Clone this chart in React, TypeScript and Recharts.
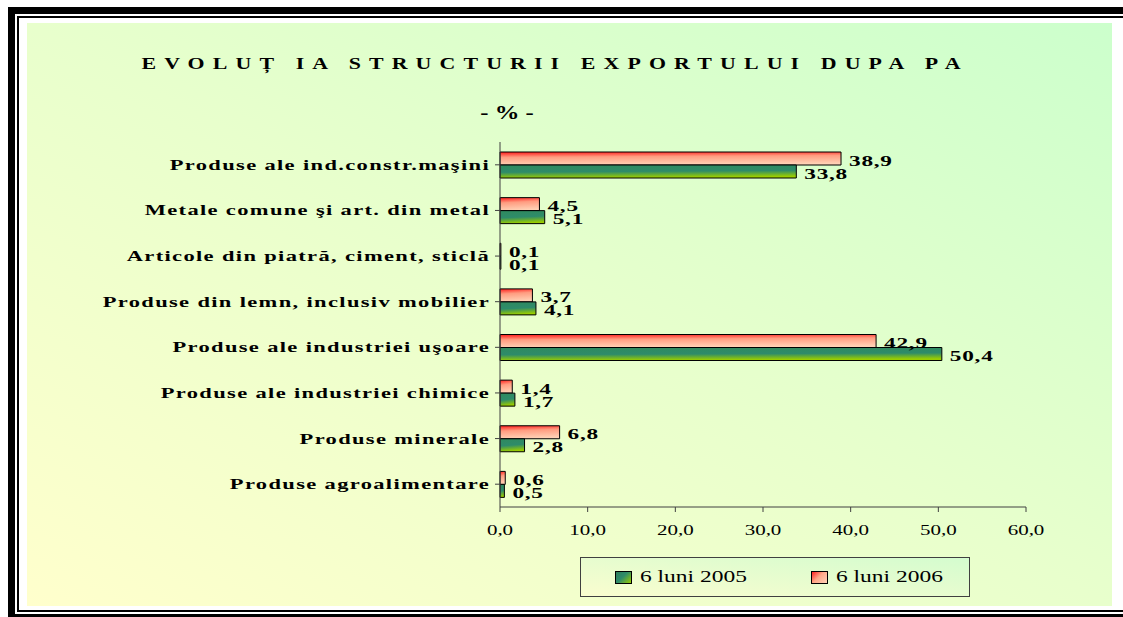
import React from "react";
import { BarChart, Bar, XAxis, YAxis, LabelList } from "recharts";

// ── Data ───────────────────────────────────────────────────

const CATEGORIES = [
  "Produse ale ind.constr.maşini",
  "Metale comune şi art. din metal",
  "Articole din piatră, ciment, sticlă",
  "Produse din lemn, inclusiv mobilier",
  "Produse ale industriei uşoare",
  "Produse ale industriei chimice",
  "Produse minerale",
  "Produse agroalimentare",
];

const VALUES_2006 = [38.9, 4.5, 0.1, 3.7, 42.9, 1.4, 6.8, 0.6];
const VALUES_2005 = [33.8, 5.1, 0.1, 4.1, 50.4, 1.7, 2.8, 0.5];

const X_TICKS = [0, 10, 20, 30, 40, 50, 60];

const SERIES_2005 = "6 luni 2005";
const SERIES_2006 = "6 luni 2006";

const data = CATEGORIES.map((name, i) => ({
  name,
  y2006: VALUES_2006[i],
  y2005: VALUES_2005[i],
}));

// ── Style ──────────────────────────────────────────────────

const FONT = '"Liberation Serif", "Times New Roman", serif';
const SX = 1.5; // the source picture is stretched horizontally
const AXIS = "#404040";

const fmt = (v: number) => v.toFixed(1).replace(".", ",");

// ── Ticks and labels ───────────────────────────────────────

function CategoryTick({ x, y, payload }: any) {
  return (
    <text
      transform={`translate(${x - 3},${y + 5}) scale(${SX},1)`}
      textAnchor="end"
      fontFamily={FONT}
      fontWeight="bold"
      fontSize={15}
      letterSpacing={0.9}
      fill="#000"
    >
      {payload.value}
    </text>
  );
}

function ValueTick({ x, y, payload }: any) {
  return (
    <text
      transform={`translate(${x},${y + 21}) scale(${SX},1)`}
      textAnchor="middle"
      fontFamily={FONT}
      fontSize={14}
      fill="#000"
    >
      {fmt(payload.value)}
    </text>
  );
}

function BarValue({ x, y, width, height, value }: any) {
  return (
    <text
      transform={`translate(${x + width + 8},${y + height / 2 + 7}) scale(${SX},1)`}
      fontFamily={FONT}
      fontWeight="bold"
      fontSize={15.5}
      letterSpacing={0.5}
      fill="#000"
    >
      {fmt(value)}
    </text>
  );
}

function Swatch({ kind }: { kind: "green" | "red" }) {
  const bg =
    kind === "green"
      ? "linear-gradient(135deg, #2E7D5B 0%, #2E8B6A 45%, #9ACD00 100%)"
      : "linear-gradient(135deg, #FF2020 0%, #FFA888 45%, #FFD2B8 100%)";
  return (
    <span
      style={{
        display: "inline-block",
        width: 15,
        height: 11,
        border: "1px solid #000",
        background: bg,
        marginRight: 8,
      }}
    />
  );
}

function LegendBox() {
  const item = (kind: "green" | "red", label: string) => (
    <div style={{ display: "flex", alignItems: "center" }}>
      <Swatch kind={kind} />
      <span
        style={{
          display: "inline-block",
          fontFamily: FONT,
          fontSize: 17,
          transform: `scaleX(1.38)`,
          transformOrigin: "left center",
          width: 100,
          whiteSpace: "nowrap",
        }}
      >
        {label}
      </span>
    </div>
  );
  return (
    <div
      style={{
        position: "absolute",
        left: 580,
        top: 557,
        width: 388,
        height: 38,
        border: "1px solid #404040",
        background: "linear-gradient(to top right, #FAFDCF, #D4FCCF)",
        display: "flex",
        alignItems: "center",
      }}
    >
      <div style={{ marginLeft: 34, width: 196 }}>{item("green", SERIES_2005)}</div>
      <div>{item("red", SERIES_2006)}</div>
    </div>
  );
}

// ── Component ──────────────────────────────────────────────

export default function App() {
  return (
    <div style={{ position: "absolute", left: 0, top: 0, width: 1123, height: 617, background: "#fff", overflow: "hidden" }}>
      {/* double frame */}
      <div style={{ position: "absolute", left: 8, top: 7, width: 1115, height: 7, background: "#000" }} />
      <div style={{ position: "absolute", left: 8, top: 7, width: 7, height: 610, background: "#000" }} />
      <div style={{ position: "absolute", left: 17, top: 16, width: 1106, height: 2, background: "#000" }} />
      <div style={{ position: "absolute", left: 17, top: 16, width: 2, height: 596, background: "#000" }} />
      <div style={{ position: "absolute", left: 17, top: 610, width: 1106, height: 2, background: "#000" }} />
      <div style={{ position: "absolute", left: 15, top: 614, width: 1108, height: 3, background: "#000" }} />

      {/* chart area background */}
      <div
        style={{
          position: "absolute",
          left: 27,
          top: 23,
          width: 1085,
          height: 583,
          background: "linear-gradient(to top right, #FFFFCC 0%, #E8FFCC 50%, #CCFFCC 100%)",
        }}
      />

      {/* title */}
      <div
        style={{
          position: "absolute",
          left: 555,
          top: 53,
          transform: "translate(-50%,0) scaleX(1.25)",
          fontFamily: FONT,
          fontWeight: "bold",
          fontSize: 17.5,
          letterSpacing: 6.5,
          whiteSpace: "nowrap",
          color: "#000",
        }}
      >
        EVOLUȚ IA STRUCTURII EXPORTULUI DUPA PA
      </div>
      <div
        style={{
          position: "absolute",
          left: 507,
          top: 102,
          transform: "translate(-50%,0) scaleX(1.3)",
          fontFamily: FONT,
          fontWeight: "bold",
          fontSize: 19,
          whiteSpace: "nowrap",
          color: "#000",
        }}
      >
        - % -
      </div>

      <div style={{ position: "absolute", left: 0, top: 0 }}>
        <BarChart
          width={1123}
          height={617}
          data={data}
          layout="vertical"
          margin={{ top: 142, right: 97, bottom: 80, left: 20 }}
          barGap={0}
          barSize={13}
        >
          <defs>
            <linearGradient id="gRed" x1="0" y1="0" x2="0.15" y2="1">
              <stop offset="0%" stopColor="#FF1A1A" />
              <stop offset="40%" stopColor="#FF9C80" />
              <stop offset="100%" stopColor="#FFD0B4" />
            </linearGradient>
            <linearGradient id="gGreen" x1="0" y1="0" x2="0.15" y2="1">
              <stop offset="0%" stopColor="#2F8A5E" />
              <stop offset="55%" stopColor="#2E8B6A" />
              <stop offset="100%" stopColor="#9ACD00" />
            </linearGradient>
          </defs>
          <XAxis
            type="number"
            domain={[0, 60]}
            ticks={X_TICKS}
            interval={0}
            stroke={AXIS}
            tickSize={5}
            height={30}
            tick={<ValueTick />}
          />
          <YAxis
            type="category"
            dataKey="name"
            width={480}
            stroke={AXIS}
            tickSize={5}
            interval={0}
            tick={<CategoryTick />}
          />
          <Bar dataKey="y2006" name={SERIES_2006} fill="url(#gRed)" stroke="#000" strokeWidth={1} isAnimationActive={false}>
            <LabelList dataKey="y2006" content={<BarValue />} />
          </Bar>
          <Bar dataKey="y2005" name={SERIES_2005} fill="url(#gGreen)" stroke="#000" strokeWidth={1} isAnimationActive={false}>
            <LabelList dataKey="y2005" content={<BarValue />} />
          </Bar>
        </BarChart>
      </div>

      <LegendBox />
    </div>
  );
}
